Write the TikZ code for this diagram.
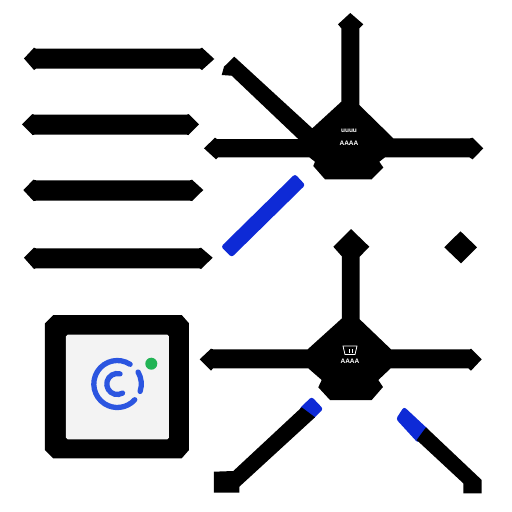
\documentclass[tikz,border=0pt]{standalone}
\usepackage{fontspec}
\setmainfont{Liberation Sans}
\definecolor{PinBlack}{RGB}{0,0,0}
\definecolor{TipBlue}{RGB}{14,42,214}
\definecolor{LogoBlue}{RGB}{43,85,224}
\definecolor{LogoGreen}{RGB}{34,180,85}
\definecolor{ScreenGrey}{RGB}{243,243,243}
\tikzset{
  pinshape/.style={fill=PinBlack,draw=none},
  tipshape/.style={fill=TipBlue,draw=none,rounded corners=1.5pt},
  logoarc/.style={draw=LogoBlue,line width=3pt,line cap=round},
  chiplabel/.style={text=white,inner sep=0pt,font=\fontsize{3.7}{5}\bfseries\selectfont}
}
\begin{document}
\begin{tikzpicture}[x=0.02cm,y=-0.02cm]
  \useasboundingbox (0,0) rectangle (512,512);

  \fill[pinshape] (24,58.5) -- (34,47.7) -- (36,48.7) -- (200,48.7) -- (202,47.7) -- (214.3,59) -- (202,70) -- (200,68.7) -- (36,68.7) -- (34,70) -- cycle;
  \fill[pinshape] (22,124.3) -- (32.5,114) -- (34.5,114.7) -- (187,114.7) -- (188.5,114) -- (199,124.3) -- (188.5,135) -- (187,134.7) -- (34.5,134.7) -- (32.5,135) -- cycle;
  \fill[pinshape] (23.3,190) -- (33.5,179.7) -- (36,180.3) -- (190,180.3) -- (192,179.7) -- (203.3,190) -- (192,201) -- (190,200.7) -- (36,200.7) -- (33.5,201) -- cycle;
  \fill[pinshape] (24,257.7) -- (34,247.7) -- (36,248.3) -- (199,248.3) -- (201,247.7) -- (212.7,257.7) -- (201,269) -- (199,268.3) -- (36,268.3) -- (34,269) -- cycle;

  \fill[tipshape] (295,174) -- (305.3,185) -- (231.7,257.3) -- (221,246.7) -- cycle;

  \fill[pinshape] (350.3,13) -- (363.3,24.3) -- (359.3,28.3) -- (359.3,105) -- (393.3,138.3) -- (470,138.3) -- (472.7,137.7) -- (483.3,148.3) -- (472.7,159.3) -- (469.3,157.3) -- (385,157.3) -- (379.3,161.7) -- (383.3,167.5) -- (371.7,179.3) -- (325,179.3) -- (313.3,166) -- (315,161.7) -- (309.3,157.3) -- (218,157.3) -- (216,159.3) -- (204,148.3) -- (215,137.7) -- (217,139) -- (298.3,139) -- (231.7,75.7) -- (221.7,75) -- (224,66.7) -- (234.3,56.7) -- (312.3,128.3) -- (341.3,101.7) -- (341.3,28.3) -- (338,24.3) -- cycle;

  \fill[pinshape] (351,229) -- (369.3,246.7) -- (359.7,256.7) -- (359.7,319.3) -- (391,349.3) -- (470,349.3) -- (471,348.7) -- (481.7,359.3) -- (471,370.7) -- (468.3,368.3) -- (390.7,368.3) -- (378.3,380) -- (383,387) -- (371.7,400) -- (330,400) -- (318.3,387.3) -- (321.7,380) -- (308.3,368.3) -- (213,368.3) -- (211,370.7) -- (199.7,359.3) -- (211,348.7) -- (213,349.3) -- (307.7,349.3) -- (342,318.3) -- (342,256.5) -- (333.3,246.7) -- cycle;

  \fill[pinshape] (460.5,231.3) -- (477,247.3) -- (461,263.3) -- (444.3,247.3) -- cycle;

  \node[chiplabel] (topcode) at (349,131) {uuuu};
  \node[chiplabel] (topmark) at (349,143) {AAAA};
  \node[chiplabel] (lowmark) at (350,361) {AAAA};
  \draw[white,line width=0.45pt] (343,346) -- (357,346) -- (355,354.5) -- (345,354.5) -- cycle;
  \draw[white,line width=0.35pt] (349,349) -- (349,353) (352,349) -- (352,353);

  \fill[tipshape] (311.7,396.7) -- (323.3,409) -- (312,420) -- (299,409) -- cycle;
  \fill[pinshape] (301.7,407.3) -- (315,417.3) -- (239.3,486.7) -- (239.3,492.7) -- (214,492.7) -- (214,471.7) -- (233.3,471) -- cycle;
  \fill[tipshape] (404,406.7) -- (429,430) -- (418,443) -- (396,419) -- cycle;
  \fill[pinshape] (426,427.3) -- (481.7,480) -- (481.7,493.3) -- (463.3,493.3) -- (463.3,483.3) -- (416.7,440) -- cycle;

  \fill[pinshape] (53.3,315) -- (181.7,315) -- (189,323.3) -- (189,450) -- (181.7,458.3) -- (53.3,458.3) -- (45,450) -- (45,323.3) -- cycle;
  \fill[ScreenGrey,rounded corners=1pt] (66,334.7) rectangle (169,439.3);

  \begin{scope}[shift={(117.3,384)},y=0.02cm]
    \draw[logoarc] (57:0.47cm) arc[start angle=57,end angle=318,radius=0.47cm];
    \draw[logoarc] (30:0.48cm) arc[start angle=30,end angle=-18,radius=0.48cm];
    \draw[logoarc] (75:0.21cm) arc[start angle=75,end angle=300,radius=0.21cm];
  \end{scope}
  \fill[LogoGreen] (151.3,363.7) circle[radius=0.12cm];
\end{tikzpicture}
\end{document}
